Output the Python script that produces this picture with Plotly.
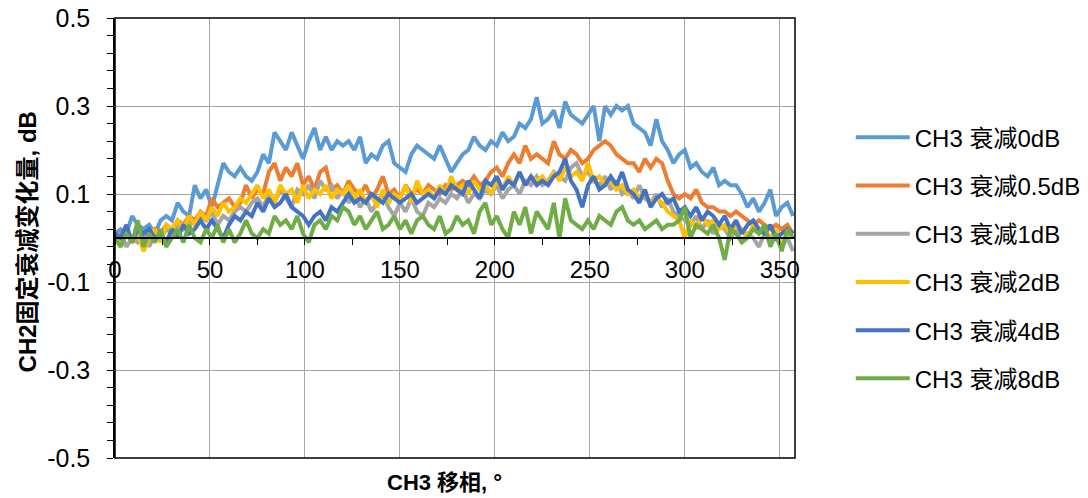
import plotly.graph_objects as go

series_names = ["CH3 衰减0dB", "CH3 衰减0.5dB", "CH3 衰减1dB", "CH3 衰减2dB", "CH3 衰减4dB", "CH3 衰减8dB"]
phase_step = 3

att_0db = [0.01, 0.02, 0.01, 0.05, 0.03, 0.02, 0.03, 0.01, 0.04, 0.05, 0.04, 0.08, 0.06, 0.05, 0.12, 0.09, 0.11, 0.07, 0.12, 0.17,
           0.15, 0.14, 0.16, 0.14, 0.13, 0.15, 0.19, 0.17, 0.24, 0.22, 0.20, 0.24, 0.21, 0.18, 0.22, 0.25, 0.20, 0.23, 0.20, 0.22,
           0.21, 0.22, 0.20, 0.23, 0.17, 0.19, 0.18, 0.21, 0.22, 0.17, 0.16, 0.15, 0.19, 0.21, 0.20, 0.19, 0.18, 0.21, 0.18, 0.15,
           0.17, 0.19, 0.20, 0.23, 0.21, 0.20, 0.22, 0.21, 0.24, 0.22, 0.23, 0.26, 0.25, 0.27, 0.32, 0.26, 0.27, 0.29, 0.25, 0.31,
           0.28, 0.27, 0.26, 0.28, 0.30, 0.22, 0.30, 0.28, 0.30, 0.29, 0.30, 0.26, 0.25, 0.24, 0.21, 0.27, 0.22, 0.20, 0.17, 0.19,
           0.20, 0.16, 0.17, 0.15, 0.14, 0.16, 0.12, 0.13, 0.12, 0.12, 0.10, 0.07, 0.09, 0.06, 0.08, 0.11, 0.05, 0.07, 0.08, 0.05]
att_05db = [0.00, 0.01, 0.02, -0.01, 0.02, 0.01, 0.00, 0.02, 0.01, 0.03, 0.02, 0.04, 0.03, 0.05, 0.04, 0.06, 0.05, 0.09, 0.07, 0.08,
            0.09, 0.07, 0.08, 0.12, 0.09, 0.11, 0.10, 0.15, 0.17, 0.13, 0.16, 0.14, 0.17, 0.12, 0.14, 0.11, 0.15, 0.16, 0.11, 0.12,
            0.10, 0.13, 0.11, 0.10, 0.12, 0.09, 0.11, 0.14, 0.10, 0.11, 0.09, 0.12, 0.10, 0.11, 0.10, 0.12, 0.11, 0.10, 0.12, 0.11,
            0.12, 0.13, 0.12, 0.14, 0.12, 0.13, 0.15, 0.16, 0.14, 0.17, 0.19, 0.17, 0.21, 0.18, 0.19, 0.18, 0.17, 0.22, 0.19, 0.18,
            0.20, 0.19, 0.17, 0.18, 0.20, 0.21, 0.22, 0.21, 0.19, 0.18, 0.17, 0.17, 0.15, 0.18, 0.16, 0.18, 0.17, 0.13, 0.10, 0.09,
            0.10, 0.09, 0.11, 0.08, 0.07, 0.07, 0.06, 0.06, 0.05, 0.06, 0.05, 0.04, 0.03, 0.04, 0.03, 0.02, 0.03, 0.02, 0.03, 0.01]
att_1db = [-0.01, 0.01, -0.02, 0.00, -0.01, 0.01, -0.02, 0.01, 0.00, 0.02, 0.01, 0.03, 0.02, 0.04, 0.03, 0.05, 0.04, 0.06, 0.03, 0.05,
           0.04, 0.06, 0.07, 0.06, 0.08, 0.09, 0.07, 0.10, 0.08, 0.11, 0.09, 0.07, 0.11, 0.10, 0.12, 0.09, 0.13, 0.11, 0.12, 0.09,
           0.11, 0.08, 0.10, 0.07, 0.09, 0.06, 0.08, 0.10, 0.07, 0.05, 0.08, 0.06, 0.09, 0.06, 0.05, 0.08, 0.07, 0.09, 0.08, 0.10,
           0.09, 0.11, 0.08, 0.10, 0.09, 0.11, 0.10, 0.12, 0.09, 0.11, 0.12, 0.10, 0.13, 0.12, 0.14, 0.12, 0.13, 0.15, 0.14, 0.13,
           0.16, 0.17, 0.14, 0.15, 0.13, 0.12, 0.14, 0.11, 0.13, 0.10, 0.11, 0.09, 0.12, 0.09, 0.08, 0.10, 0.07, 0.09, 0.06, 0.05,
           0.04, 0.03, 0.05, 0.02, 0.04, 0.01, 0.03, 0.02, 0.00, 0.02, -0.01, 0.01, 0.00, -0.02, 0.01, -0.01, 0.00, -0.02, 0.00, -0.03]
att_2db = [0.00, -0.01, 0.02, -0.01, 0.01, -0.03, 0.00, 0.02, -0.01, 0.03, 0.02, 0.04, 0.02, 0.05, 0.03, 0.06, 0.04, 0.07, 0.05, 0.08,
           0.06, 0.07, 0.09, 0.08, 0.10, 0.12, 0.09, 0.11, 0.08, 0.12, 0.10, 0.11, 0.08, 0.12, 0.09, 0.11, 0.10, 0.12, 0.09, 0.11,
           0.10, 0.12, 0.09, 0.11, 0.08, 0.10, 0.07, 0.11, 0.08, 0.10, 0.09, 0.12, 0.08, 0.13, 0.10, 0.11, 0.09, 0.12, 0.10, 0.14,
           0.11, 0.12, 0.10, 0.13, 0.11, 0.12, 0.10, 0.13, 0.11, 0.14, 0.12, 0.15, 0.12, 0.14, 0.13, 0.14, 0.12, 0.15, 0.13, 0.16,
           0.14, 0.15, 0.13, 0.17, 0.13, 0.14, 0.12, 0.13, 0.11, 0.12, 0.10, 0.11, 0.09, 0.10, 0.08, 0.09, 0.08, 0.06, 0.05, 0.04,
           0.00, 0.04, 0.02, 0.05, 0.03, 0.04, 0.02, 0.03, 0.01, 0.03, 0.02, 0.00, 0.03, 0.01, 0.02, 0.00, 0.02, -0.01, 0.01, 0.00]
att_4db = [0.01, 0.00, 0.03, -0.01, 0.02, 0.01, 0.02, 0.00, 0.01, -0.01, 0.02, 0.00, 0.03, 0.01, 0.02, 0.04, 0.02, 0.04, 0.02, 0.00,
           0.03, 0.05, 0.04, 0.06, 0.05, 0.08, 0.06, 0.09, 0.07, 0.08, 0.10, 0.07, 0.06, 0.05, 0.03, 0.05, 0.06, 0.04, 0.07, 0.06,
           0.08, 0.10, 0.08, 0.09, 0.08, 0.10, 0.09, 0.08, 0.10, 0.09, 0.08, 0.09, 0.10, 0.08, 0.09, 0.10, 0.09, 0.11, 0.10, 0.12,
           0.11, 0.10, 0.13, 0.11, 0.09, 0.13, 0.12, 0.14, 0.11, 0.13, 0.12, 0.15, 0.12, 0.14, 0.12, 0.13, 0.12, 0.14, 0.15, 0.18,
           0.13, 0.11, 0.07, 0.12, 0.14, 0.11, 0.12, 0.14, 0.12, 0.15, 0.11, 0.10, 0.08, 0.11, 0.07, 0.09, 0.10, 0.08, 0.09, 0.06,
           0.07, 0.05, 0.07, 0.04, 0.06, 0.05, 0.03, 0.05, 0.02, 0.04, 0.01, 0.03, 0.04, 0.02, 0.01, 0.03, 0.00, 0.01, 0.02, 0.01]
att_8db = [0.00, -0.02, 0.01, -0.01, 0.04, -0.02, 0.01, -0.01, 0.02, -0.02, 0.00, 0.02, -0.01, 0.03, 0.00, -0.01, 0.02, 0.00, 0.03, -0.01,
           0.02, -0.01, 0.01, 0.04, 0.01, 0.00, 0.02, 0.01, 0.05, 0.03, 0.04, 0.02, 0.05, 0.01, -0.01, 0.03, 0.04, 0.02, 0.05, 0.04,
           0.07, 0.06, 0.03, 0.05, 0.02, 0.04, 0.06, 0.02, 0.03, 0.05, 0.02, 0.04, 0.01, 0.04, 0.05, 0.03, 0.02, 0.05, 0.01, 0.02,
           0.05, 0.03, 0.04, 0.01, 0.06, 0.08, 0.03, 0.05, 0.02, 0.00, 0.06, 0.03, 0.07, 0.01, 0.06, 0.04, 0.02, 0.08, 0.00, 0.09,
           0.04, 0.03, 0.02, 0.04, 0.02, 0.05, 0.04, 0.03, 0.06, 0.07, 0.04, 0.03, 0.04, 0.02, 0.03, 0.04, 0.02, 0.03, 0.03, 0.04,
           0.07, 0.00, 0.03, 0.02, 0.01, 0.03, 0.00, -0.05, 0.02, 0.01, -0.01, 0.00, 0.02, 0.01, 0.03, -0.02, 0.01, -0.03, 0.02, 0.00]

series_values = [att_0db, att_05db, att_1db, att_2db, att_4db, att_8db]
colors = ["#5B9BD5", "#ED7D31", "#A5A5A5", "#FFC000", "#4472C4", "#70AD47"]

x_ticks = [0, 50, 100, 150, 200, 250, 300, 350]
y_ticks = [-0.5, -0.3, -0.1, 0.1, 0.3, 0.5]
y_tick_text = ["-0.5", "-0.3", "-0.1", "0.1", "0.3", "0.5"]
x_title = "CH3 移相, °"
y_title = "CH2固定衰减变化量, dB"

FONT = "Liberation Sans, Noto Sans CJK SC, sans-serif"

fig = go.Figure()
for i, (name, vals, col) in enumerate(zip(series_names, series_values, colors)):
    xs = [k * phase_step for k in range(len(vals))]
    fig.add_trace(go.Scatter(x=xs, y=vals, mode="lines", name=name,
                             line=dict(color=col, width=4), legendgroup=f"g{i}"))

fig.update_layout(
    width=1088, height=498,
    margin=dict(l=115, r=293, t=18, b=40, autoexpand=False),
    paper_bgcolor="white", plot_bgcolor="white",
    font=dict(family=FONT, color="#000000"),
    showlegend=True,
    legend=dict(x=1.082, xanchor="left", y=0.779, yanchor="top",
                font=dict(size=24, family=FONT, color="#000000"),
                itemwidth=54, tracegroupgap=14, bgcolor="rgba(0,0,0,0)"),
    xaxis=dict(range=[0, 358], tickvals=x_ticks, showgrid=True, gridcolor="#A6A6A6", gridwidth=1.3,
               zeroline=False, showline=True, linecolor="#000000", linewidth=1.5,
               anchor="free", position=0.5, automargin=False,
               ticks="outside", ticklen=6, tickcolor="#000000", tickwidth=1.3,
               minor=dict(dtick=25, tick0=0, ticks="outside", ticklen=6, tickcolor="#000000", showgrid=False),
               tickfont=dict(size=24, family=FONT), ticklabelstandoff=4),
    yaxis=dict(range=[-0.5, 0.5], tickvals=y_ticks, ticktext=y_tick_text, showgrid=True, gridcolor="#A6A6A6",
               gridwidth=1.3, zeroline=False, showline=True, linecolor="#000000", linewidth=1.5,
               automargin=False,
               ticks="outside", ticklen=6, tickcolor="#000000", tickwidth=1.3,
               minor=dict(dtick=0.04, tick0=-0.5, ticks="outside", ticklen=6, tickcolor="#000000", showgrid=False),
               tickfont=dict(size=25, family=FONT), ticklabelstandoff=12),
)

fig.add_annotation(text=f"<b>{x_title}</b>", xref="paper", yref="paper", x=0.485, y=0,
                   yshift=-24, xanchor="center", yanchor="middle", showarrow=False,
                   font=dict(size=22, family=FONT, color="#000000"))
fig.add_annotation(text=f"<b>{y_title}</b>", xref="paper", yref="paper", x=-0.1294, y=0.49,
                   xanchor="center", yanchor="middle", textangle=-90, showarrow=False,
                   font=dict(size=24, family=FONT, color="#000000"))

fig.add_shape(type="rect", xref="paper", yref="paper", x0=0, x1=1, y0=0, y1=1,
              line=dict(color="#000000", width=1.5), layer="above")

fig.write_html("out.html")
